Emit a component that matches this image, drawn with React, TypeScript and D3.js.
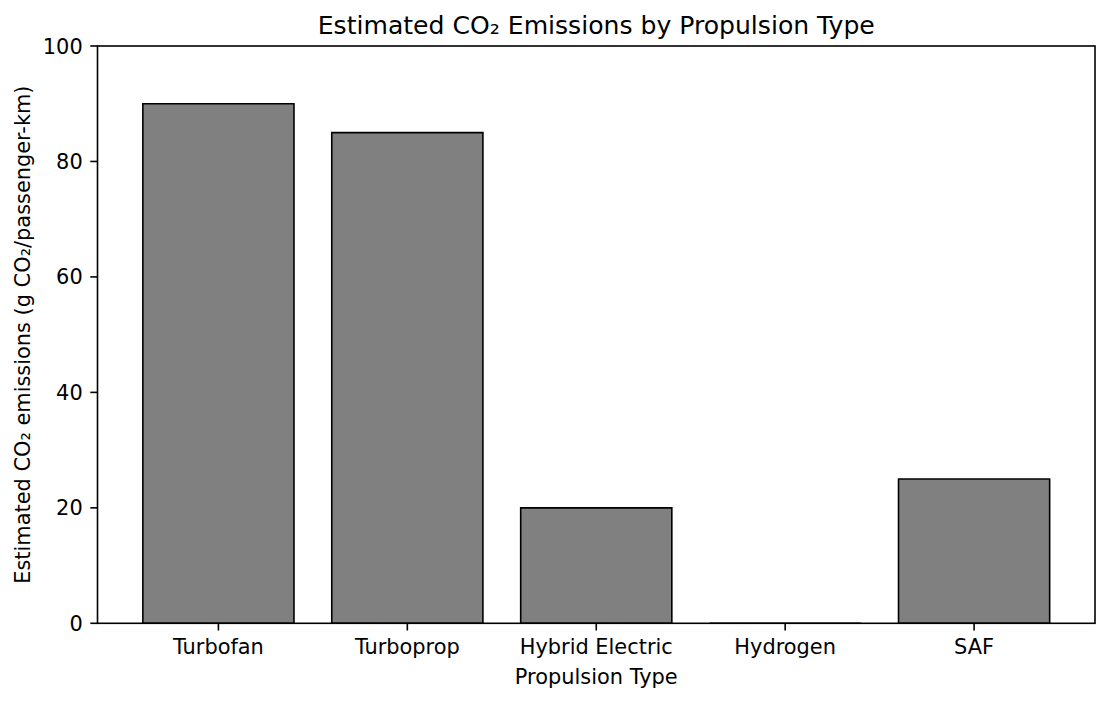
import React from "react";
import * as d3 from "d3";

const categories = ["Turbofan", "Turboprop", "Hybrid Electric", "Hydrogen", "SAF"];
const emissions = [90, 85, 20, 0, 25];
const yTicks = [0, 20, 40, 60, 80, 100];

const width = 1110;
const height = 702;
const margin = { top: 46, right: 15, bottom: 78.7, left: 97.5 };
const font = "'DejaVu Sans', sans-serif";
const axisFont = 20.9;
const titleFont = 25.1;

export default function App() {
  const x = d3
    .scaleBand<string>()
    .domain(categories)
    .range([margin.left, width - margin.right])
    .paddingInner(0.2)
    .paddingOuter(0.24);
  const y = d3
    .scaleLinear()
    .domain([0, 100])
    .range([height - margin.bottom, margin.top]);

  const y0 = y(0);
  const plotLeft = margin.left;
  const plotRight = width - margin.right;
  const plotTop = margin.top;
  const midY = (plotTop + y0) / 2;

  return (
    <svg
      width={width}
      height={height}
      style={{ position: "absolute", left: 0, top: 0, background: "#fff" }}
      fontFamily={font}
    >
      {/* bars */}
      {categories.map((c, i) => {
        const x0 = x(c) as number;
        const x1 = x0 + x.bandwidth();
        const yt = y(emissions[i]);
        const d = d3.path();
        d.moveTo(x0, y0);
        d.lineTo(x0, yt);
        d.lineTo(x1, yt);
        d.lineTo(x1, y0);
        d.closePath();
        return (
          <path
            key={c}
            d={d.toString()}
            fill="#808080"
            stroke="#000"
            strokeWidth={1.6}
          />
        );
      })}

      {/* frame */}
      <rect
        x={plotLeft}
        y={plotTop}
        width={plotRight - plotLeft}
        height={y0 - plotTop}
        fill="none"
        stroke="#000"
        strokeWidth={1.6}
      />

      {/* y axis */}
      {yTicks.map((t) => (
        <g key={t}>
          <line x1={plotLeft - 7.2} x2={plotLeft} y1={y(t)} y2={y(t)} stroke="#000" strokeWidth={1.6} />
          <text
            x={plotLeft - 14.8}
            y={y(t)}
            dy="0.36em"
            textAnchor="end"
            fontSize={axisFont}
            fill="#000"
          >
            {t}
          </text>
        </g>
      ))}

      {/* x axis */}
      {categories.map((c) => {
        const cx = (x(c) as number) + x.bandwidth() / 2;
        return (
          <g key={c}>
            <line x1={cx} x2={cx} y1={y0} y2={y0 + 7.2} stroke="#000" strokeWidth={1.6} />
            <text x={cx} y={653.5} textAnchor="middle" fontSize={axisFont} fill="#000">
              {c}
            </text>
          </g>
        );
      })}

      {/* labels */}
      <text
        x={(plotLeft + plotRight) / 2}
        y={683.5}
        textAnchor="middle"
        fontSize={axisFont}
        fill="#000"
      >
        Propulsion Type
      </text>
      <text
        transform={`translate(30,${midY}) rotate(-90)`}
        textAnchor="middle"
        fontSize={axisFont}
        fill="#000"
      >
        Estimated CO₂ emissions (g CO₂/passenger-km)
      </text>
      <text
        x={(plotLeft + plotRight) / 2}
        y={33.5}
        textAnchor="middle"
        fontSize={titleFont}
        fill="#000"
      >
        Estimated CO₂ Emissions by Propulsion Type
      </text>
    </svg>
  );
}
